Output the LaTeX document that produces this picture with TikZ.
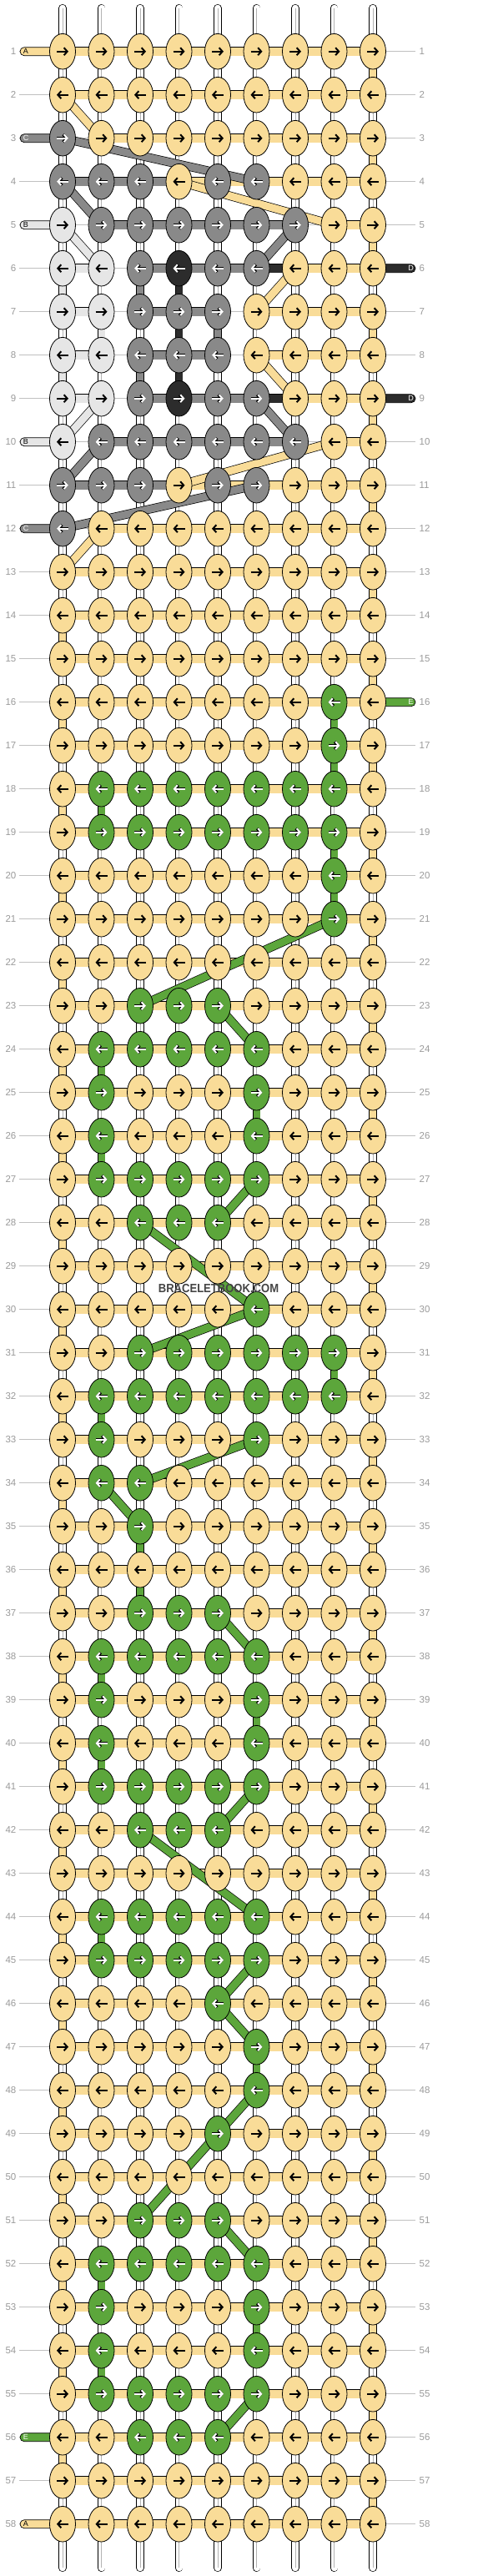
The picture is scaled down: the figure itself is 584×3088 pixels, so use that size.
\documentclass[tikz,border=0pt]{standalone}
\usepackage{fontspec}
\setmainfont{Liberation Sans}
\usetikzlibrary{shapes.geometric, arrows.meta}

\pgfdeclarelayer{back}
\pgfsetlayers{back,main}

% thread colours, same letters as the thread tabs
\definecolor{cA}{HTML}{F9DC98}
\definecolor{cB}{HTML}{E6E6E6}
\definecolor{cC}{HTML}{898989}
\definecolor{cD}{HTML}{2C2C2C}
\definecolor{cE}{HTML}{5CA63B}
\definecolor{numgray}{HTML}{9A9A9A}
\definecolor{linegray}{HTML}{C0C0C0}
\definecolor{markgray}{HTML}{444444}

\tikzset{
  knot/.style={ellipse, draw=black, line width=.8pt, minimum width=31pt, minimum height=42.6pt, inner sep=0pt},
  arr/.style={line width=2pt, -{Straight Barb[length=4pt,width=9pt]}},
  inA/.style={arr, black}, inB/.style={arr, black},
  inC/.style={arr, white}, inD/.style={arr, white}, inE/.style={arr, white},
  outA/.style={draw=none}, outB/.style={draw=none},
  outC/.style={arr, black, line width=3.4pt}, outD/.style={outC}, outE/.style={outC},
  band/.style={draw=black, line width=.7pt, double distance=10pt},
  vband/.style={draw=black, line width=.7pt, double distance=8pt},
  dband/.style={draw=black, line width=.7pt, double distance=9pt},
  hsegA/.style={band, double=cA}, hsegB/.style={band, double=cB},
  hsegC/.style={band, double=cC}, hsegD/.style={band, double=cD},
  hseg0/.style={draw=none},
  warp/.style={draw=black, line width=.7pt, double=white, double distance=8pt, line cap=round},
  rowline/.style={draw=linegray, line width=.8pt},
  rownum/.style={text=numgray, inner sep=0pt, font=\fontsize{11.5}{12}\selectfont},
  tabbox/.style={draw=black, line width=.7pt, rounded corners=5pt},
  tabtxt/.style={inner sep=0pt, font=\fontsize{9}{9}\selectfont},
}

\begin{document}
\begin{tikzpicture}[x=1pt, y=-1pt]
\useasboundingbox (0,0) rectangle (584,3088);

% knots, nine per row, arrows to the right in odd rows
\foreach \r/\row in {
  1/{A,A,A,A,A,A,A,A,A}, 2/{A,A,A,A,A,A,A,A,A}, 3/{C,A,A,A,A,A,A,A,A},
  4/{C,C,C,A,C,C,A,A,A}, 5/{B,C,C,C,C,C,C,A,A}, 6/{B,B,C,D,C,C,A,A,A},
  7/{B,B,C,C,C,A,A,A,A}, 8/{B,B,C,C,C,A,A,A,A}, 9/{B,B,C,D,C,C,A,A,A},
  10/{B,C,C,C,C,C,C,A,A}, 11/{C,C,C,A,C,C,A,A,A}, 12/{C,A,A,A,A,A,A,A,A},
  13/{A,A,A,A,A,A,A,A,A}, 14/{A,A,A,A,A,A,A,A,A}, 15/{A,A,A,A,A,A,A,A,A},
  16/{A,A,A,A,A,A,A,E,A}, 17/{A,A,A,A,A,A,A,E,A}, 18/{A,E,E,E,E,E,E,E,A},
  19/{A,E,E,E,E,E,E,E,A}, 20/{A,A,A,A,A,A,A,E,A}, 21/{A,A,A,A,A,A,A,E,A},
  22/{A,A,A,A,A,A,A,A,A}, 23/{A,A,E,E,E,A,A,A,A}, 24/{A,E,E,E,E,E,A,A,A},
  25/{A,E,A,A,A,E,A,A,A}, 26/{A,E,A,A,A,E,A,A,A}, 27/{A,E,E,E,E,E,A,A,A},
  28/{A,A,E,E,E,A,A,A,A}, 29/{A,A,A,A,A,A,A,A,A}, 30/{A,A,A,A,A,E,A,A,A},
  31/{A,A,E,E,E,E,E,E,A}, 32/{A,E,E,E,E,E,E,E,A}, 33/{A,E,A,A,A,E,A,A,A},
  34/{A,E,E,A,A,A,A,A,A}, 35/{A,A,E,A,A,A,A,A,A}, 36/{A,A,A,A,A,A,A,A,A},
  37/{A,A,E,E,E,A,A,A,A}, 38/{A,E,E,E,E,E,A,A,A}, 39/{A,E,A,A,A,E,A,A,A},
  40/{A,E,A,A,A,E,A,A,A}, 41/{A,E,E,E,E,E,A,A,A}, 42/{A,A,E,E,E,A,A,A,A},
  43/{A,A,A,A,A,A,A,A,A}, 44/{A,E,E,E,E,E,A,A,A}, 45/{A,E,E,E,E,E,A,A,A},
  46/{A,A,A,A,E,A,A,A,A}, 47/{A,A,A,A,A,E,A,A,A}, 48/{A,A,A,A,A,E,A,A,A},
  49/{A,A,A,A,E,A,A,A,A}, 50/{A,A,A,A,A,A,A,A,A}, 51/{A,A,E,E,E,A,A,A,A},
  52/{A,E,E,E,E,E,A,A,A}, 53/{A,E,A,A,A,E,A,A,A}, 54/{A,E,A,A,A,E,A,A,A},
  55/{A,E,E,E,E,E,A,A,A}, 56/{A,A,E,E,E,A,A,A,A}, 57/{A,A,A,A,A,A,A,A,A},
  58/{A,A,A,A,A,A,A,A,A}}{
  \pgfmathsetmacro\axa{ifthenelse(mod(\r,2)==1,-7,7)}
  \pgfmathsetmacro\axb{ifthenelse(mod(\r,2)==1,14,-14)}
  \foreach \k [count=\c] in \row {
    \node[knot, fill=c\k] (k-\r-\c) at ({75+46.5*(\c-1)}, {61.7+52*(\r-1)}) {};
    \draw[out\k] (k-\r-\c.center) ++(\axa,0) -- ++(\axb,0);
    \draw[in\k] (k-\r-\c.center) ++(\axa,0) -- ++(\axb,0);
  }
}

% row numbers
\foreach \r in {1,...,58} {
  \node[rownum, anchor=east] (nl-\r) at (19.5, {61.7+52*(\r-1)}) {\r};
  \node[rownum, anchor=west] (nr-\r) at (502.5, {61.7+52*(\r-1)}) {\r};
}

% ends of the vertical threads
\foreach \c in {1,...,9} {
  \coordinate (top-\c) at ({75+46.5*(\c-1)}, 9.7);
  \coordinate (bot-\c) at ({75+46.5*(\c-1)}, 3078.3);
}

\begin{pgfonlayer}{back}
  \foreach \r in {1,...,58}
    \draw[rowline] ([xshift=3.5pt]nl-\r.east) -- ([xshift=-4.5pt]nr-\r.west);

  % vertical threads
  \foreach \c in {1,...,9} {
    \draw[warp] (top-\c) -- (bot-\c);
    \draw[gray!60, line width=.5pt] (top-\c) -- (bot-\c);
  }

  % horizontal pieces between knots
  \foreach \r in {1,2,13,14,...,58}
    \foreach \c in {1,...,8} {
      \pgfmathtruncatemacro\n{\c+1}
      \draw[hsegA] (k-\r-\c.center) -- (k-\r-\n.center);
    }
  \foreach \r/\segs in {3/{0,A,A,A,A,A,A,A}, 4/{C,C,C,A,A,A,A,A},
      5/{0,C,C,C,C,C,0,A}, 6/{B,0,C,C,C,D,A,A}, 7/{B,0,C,C,0,A,A,A},
      8/{B,0,C,C,0,A,A,A}, 9/{B,0,C,C,C,D,A,A}, 10/{0,C,C,C,C,C,0,A},
      11/{C,C,C,A,A,A,A,A}, 12/{0,A,A,A,A,A,A,A}}
    \foreach \s [count=\c] in \segs {
      \pgfmathtruncatemacro\n{\c+1}
      \draw[hseg\s] (k-\r-\c.center) -- (k-\r-\n.center);
    }

  % turns of the knotting thread
  \foreach \r in {1,3,...,57} {
    \pgfmathtruncatemacro\n{\r+1}
    \draw[vband, double=cA] (k-\r-9.center) -- (k-\n-9.center);
  }
  \foreach \r in {14,16,...,56} {
    \pgfmathtruncatemacro\n{\r+1}
    \draw[vband, double=cA] (k-\r-1.center) -- (k-\n-1.center);
  }

  % coloured threads going down a column
  \foreach \c/\r/\k in {1/6/B, 2/7/B, 1/8/B, 3/6/C, 3/8/C, 5/7/C, 4/6/D, 4/7/D, 4/8/D,
      8/16/E, 8/17/E, 2/18/E, 8/19/E, 8/20/E, 2/24/E, 6/25/E, 2/26/E, 8/31/E,
      2/32/E, 3/35/E, 3/36/E, 2/38/E, 6/39/E, 2/40/E, 2/44/E, 6/47/E, 2/52/E,
      6/53/E, 2/54/E} {
    \pgfmathtruncatemacro\n{\r+1}
    \draw[vband, double=c\k] (k-\r-\c.center) -- (k-\n-\c.center);
  }

  % threads carried across
  \foreach \ra/\ca/\rb/\cb/\k in {3/1/4/6/C, 4/1/5/2/C, 5/7/6/6/C, 9/6/10/7/C,
      10/2/11/1/C, 11/6/12/1/C, 2/1/3/2/A, 4/4/5/8/A, 6/7/7/6/A, 8/6/9/7/A,
      10/8/11/4/A, 12/2/13/1/A, 5/1/6/2/B, 9/2/10/1/B, 21/8/23/3/E, 23/5/24/6/E,
      27/6/28/5/E, 28/3/30/6/E, 30/6/31/3/E, 33/6/34/3/E, 34/2/35/3/E,
      37/5/38/6/E, 41/6/42/5/E, 42/3/44/6/E, 45/6/46/5/E, 46/5/47/6/E,
      48/6/49/5/E, 49/5/51/3/E, 51/5/52/6/E, 55/6/56/5/E}
    \draw[dband, double=c\k] (k-\ra-\ca.center) -- (k-\rb-\cb.center);

  % thread tabs
  \foreach \r/\k in {1/A, 3/C, 5/B, 10/B, 12/C, 56/E, 58/A}
    \draw[tabbox, fill=c\k] ([yshift=5pt]k-\r-1.center) rectangle ([shift={(-51pt,-5pt)}]k-\r-1.center);
  \foreach \r/\k in {6/D, 9/D, 16/E}
    \draw[tabbox, fill=c\k] ([yshift=5pt]k-\r-9.center) rectangle ([shift={(51pt,-5pt)}]k-\r-9.center);
\end{pgfonlayer}

% tab letters
\foreach \r/\k/\t in {1/A/black, 3/C/white, 5/B/black, 10/B/black, 12/C/white, 56/E/white, 58/A/black}
  \node[tabtxt, text=\t] (tl-\r) at ([xshift=-44pt]k-\r-1.center) {\k};
\foreach \r/\k in {6/D, 9/D, 16/E}
  \node[tabtxt, text=white] (tr-\r) at ([xshift=45.5pt]k-\r-9.center) {\k};

\node[text=markgray, font=\bfseries\fontsize{14.5}{15}\selectfont, inner sep=0pt] (mark) at (262,1544) {\scalebox{.9}[1]{BRACELETBOOK.COM}};
\end{tikzpicture}
\end{document}
